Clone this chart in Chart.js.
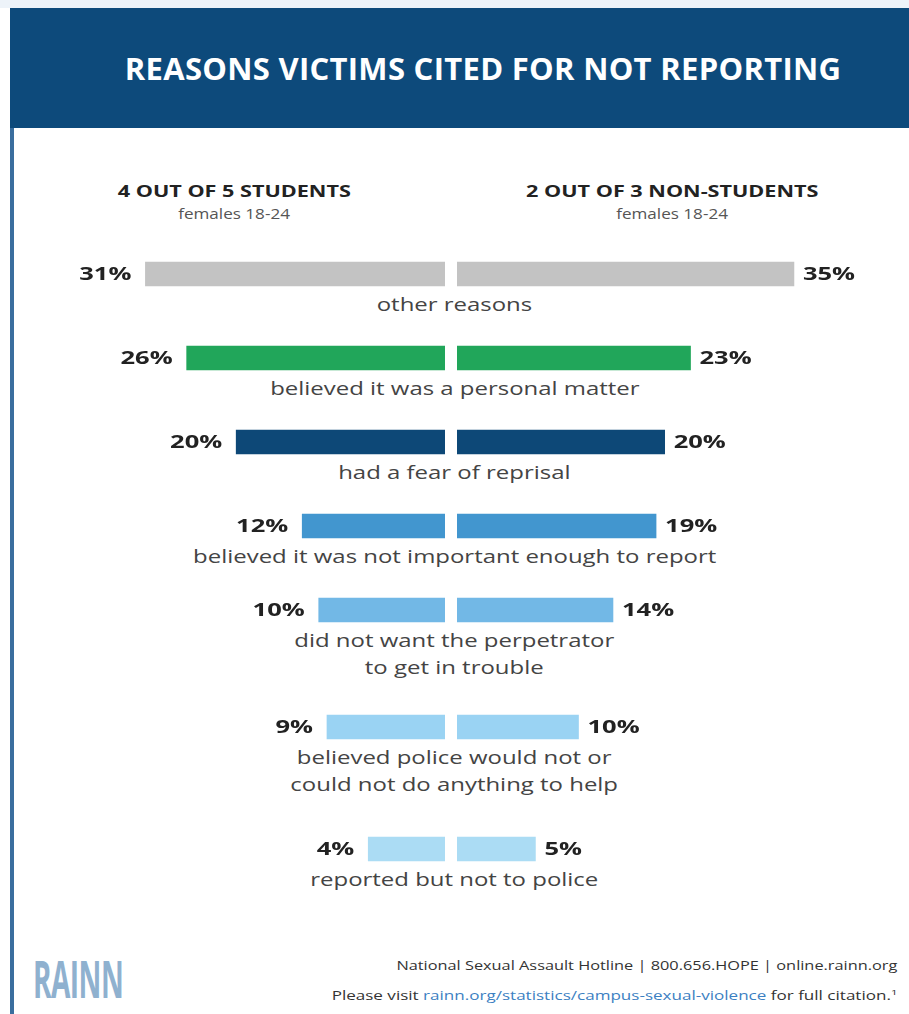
<!DOCTYPE html>
<html>
<head>
<meta charset="utf-8">
<script src="https://cdn.jsdelivr.net/npm/chart.js@4.4.0/dist/chart.umd.min.js"></script>
<style>
  body { margin: 0; background: #fff; font-family: "Open Sans", sans-serif; }
  #page { position: relative; width: 909px; height: 1014px; overflow: hidden; background: #fff; }
  #topline { position: absolute; left: 0; top: 0; width: 909px; height: 8px; background: #edf3f9; }
  #header { position: absolute; left: 10px; top: 8px; width: 899px; height: 120px; background: #0d4a7b; }
  #header h1 { margin: 0; position: absolute; left: 0; width: 946px; top: 40px; text-align: center;
    color: #fff; font-size: 31px; font-weight: 700; letter-spacing: 0.3px; line-height: 40px; }
  #edge { position: absolute; left: 10px; top: 128px; width: 4px; bottom: 0; background: #3a6e9e; }
  .colhead { position: absolute; top: 180px; width: 400px; text-align: center; line-height: 22px; }
  .colhead .t { display: inline-block; font-weight: 700; font-size: 16px; color: #222; transform: scaleX(1.35); }
  .colhead .s { display: block; font-size: 15px; color: #555; }
  .colhead .s span { display: inline-block; transform: scaleX(1.14); }
  #rows { position: absolute; top: 259px; left: 0; width: 909px; }
  .row { position: relative; margin-bottom: 25px; }
  .row:nth-child(5) { margin-bottom: 31px; }
  .row:nth-child(6) { margin-bottom: 36px; }
  .bars { position: relative; height: 30px; }
  .bars canvas { position: absolute; top: 0; }
  .label { text-align: center; font-size: 18px; line-height: 27px; color: #444; margin-top: 2px; padding-left: 0px; }
  .label span { display: inline-block; transform: scaleX(1.33); white-space: pre; }
  #rainn { position: absolute; left: 33px; top: 950px; font-size: 52px; line-height: 56px; font-weight: 700; color: #8fb1cf;
    transform: scaleX(0.54); transform-origin: left top; letter-spacing: -1px; }
  .foot { position: absolute; right: 12px; font-size: 12px; line-height: 16px; color: #333; transform: scaleX(1.36); transform-origin: right top; white-space: nowrap; }
  .foot a { color: #3b80c2; text-decoration: none; }
</style>
</head>
<body>
<div id="page">
  <div id="topline"></div>
  <div id="header"><h1>REASONS VICTIMS CITED FOR NOT REPORTING</h1></div>
  <div id="edge"></div>
  <div class="colhead" style="left:34px"><span class="t">4 OUT OF 5 STUDENTS</span><span class="s"><span>females 18-24</span></span></div>
  <div class="colhead" style="left:472px"><span class="t">2 OUT OF 3 NON-STUDENTS</span><span class="s"><span>females 18-24</span></span></div>
  <div id="rows"></div>
  <div id="rainn">RAINN</div>
  <div class="foot" style="top:958px">National Sexual Assault Hotline | 800.656.HOPE | online.rainn.org</div>
  <div class="foot" style="top:984px; transform: scaleX(1.42)">Please visit <a>rainn.org/statistics/campus-sexual-violence</a> for full citation.<sup style="font-size:8px">1</sup></div>
</div>

<script>
// reasons, top to bottom
var reasons = [
  'other reasons',
  'believed it was a personal matter',
  'had a fear of reprisal',
  'believed it was not important enough to report',
  'did not want the perpetrator\nto get in trouble',
  'believed police would not or\ncould not do anything to help',
  'reported but not to police'
];
var students = [31, 26, 20, 12, 10, 9, 4];      // percent, females 18-24 students
var nonStudents = [35, 23, 20, 19, 14, 10, 5];  // percent, females 18-24 non-students
var barColors = ['#c3c3c3', '#21a65a', '#0d4877', '#4296cf', '#72b8e6', '#9ad3f3', '#abdcf4'];

var pctLabels = {
  id: 'pctLabels',
  afterDatasetsDraw: function (chart) {
    var ctx = chart.ctx;
    var bar = chart.getDatasetMeta(0).data[0];
    var leftSide = chart.options.scales.x.reverse;
    ctx.save();
    ctx.font = 'bold 17px "Open Sans"';
    ctx.fillStyle = '#222';
    ctx.textBaseline = 'middle';
    ctx.textAlign = leftSide ? 'right' : 'left';
    ctx.translate(leftSide ? bar.x - 14 : bar.x + 9, bar.y + 1);
    ctx.scale(1.5, 1);
    ctx.fillText(chart.data.datasets[0].data[0] + '%', 0, 0);
    ctx.restore();
  }
};

// the two halves of the infographic are not drawn to quite the same scale
function barChart(canvas, reason, value, color, leftSide) {
  var lo = leftSide ? -5.3 : -4.1;
  var hi = leftSide ? 46.8 : 45.8;
  return new Chart(canvas, {
    type: 'bar',
    data: {
      labels: [reason],
      datasets: [{ data: [value], base: lo, backgroundColor: color, barThickness: 24 }]
    },
    options: {
      indexAxis: 'y',
      responsive: false,
      animation: false,
      layout: { padding: 0 },
      scales: {
        x: { type: 'linear', min: lo, max: hi, reverse: leftSide, display: false },
        y: { display: false }
      },
      plugins: { legend: { display: false }, tooltip: { enabled: false } }
    },
    plugins: [pctLabels]
  });
}

var rows = document.getElementById('rows');
for (var i = 0; i < reasons.length; i++) {
  var row = document.createElement('div');
  row.className = 'row';
  var bars = document.createElement('div');
  bars.className = 'bars';

  var cl = document.createElement('canvas');
  cl.width = 430; cl.height = 30;
  cl.style.left = '15px';
  var cr = document.createElement('canvas');
  cr.width = 430; cr.height = 30;
  cr.style.left = '457px';
  bars.appendChild(cl);
  bars.appendChild(cr);

  var label = document.createElement('div');
  label.className = 'label';
  label.innerHTML = '<span></span>';
  label.firstChild.textContent = reasons[i];

  row.appendChild(bars);
  row.appendChild(label);
  rows.appendChild(row);

  barChart(cl, reasons[i], students[i], barColors[i], true);
  barChart(cr, reasons[i], nonStudents[i], barColors[i], false);
}
</script>
</body>
</html>
